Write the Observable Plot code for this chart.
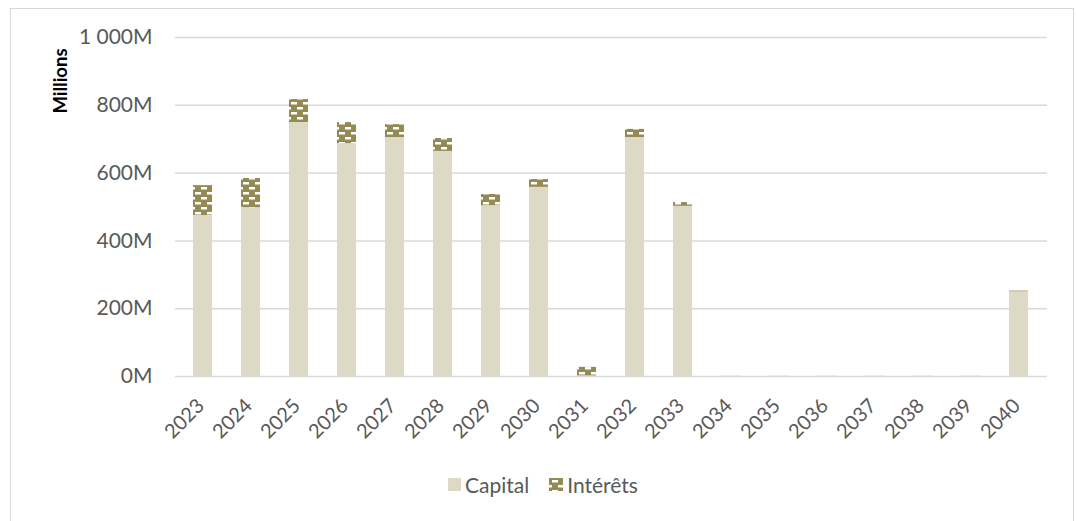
<!DOCTYPE html>
<html>
<head>
<meta charset="utf-8">
<script src="https://cdn.jsdelivr.net/npm/d3@7"></script>
<script src="https://cdn.jsdelivr.net/npm/@observablehq/plot@0.6"></script>
<style>
  html, body { margin: 0; padding: 0; background: #fff; }
  body { width: 1077px; height: 521px; position: relative; overflow: hidden; font-family: Lato, "Open Sans", sans-serif; }
  #frame { position: absolute; left: 10px; top: 8px; width: 1064px; height: 530px; border: 1px solid #d9d9d9; box-sizing: border-box; }
  #chart { position: absolute; left: 0; top: 0; }
  #ylabel { position: absolute; left: 60px; top: 81px; transform: translate(-50%, -50%) rotate(-90deg); font-weight: bold; font-size: 18.5px; color: #000; white-space: nowrap; }
  #legend { position: absolute; top: 472px; left: 448px; display: flex; gap: 20px; font-size: 21px; color: #595959; }
  .item { display: flex; align-items: center; gap: 4px; }
  .sw { width: 13px; height: 13px; display: inline-block; }
</style>
</head>
<body>
<div id="frame"></div>
<div id="chart"></div>
<div id="ylabel">Millions</div>
<div id="legend"></div>
<script>
const years = ["2023","2024","2025","2026","2027","2028","2029","2030","2031","2032","2033","2034","2035","2036","2037","2038","2039","2040"];
const capital = [475, 498, 749, 687, 705, 664, 504, 558, 2, 705, 502, 1, 1, 1, 1, 1, 1, 250];
const interets = [88, 86, 68, 62, 38, 38, 33, 23, 25, 24, 11, 0, 0, 0, 0, 0, 0, 2];
const series = ["Capital", "Intérêts"];
const yTicks = [0, 200, 400, 600, 800, 1000];

const colCapital = "#DDD9C4";
const colInterets = "#948A54";

const data = [];
years.forEach((y, i) => {
  data.push({year: y, series: series[0], value: capital[i]});
  data.push({year: y, series: series[1], value: interets[i]});
});

const fmt = d => d3.format(",")(d).replace(/,/g, " ") + "M";

const chart = Plot.plot({
  width: 1077,
  height: 460,
  marginLeft: 175,
  marginRight: 30,
  marginTop: 37,
  marginBottom: 84,
  style: { fontFamily: "Lato, 'Open Sans', sans-serif", color: "#595959", background: "transparent" },
  x: { domain: years, paddingInner: 0.6, paddingOuter: 0.3, label: null },
  y: { domain: [0, 1000], label: null },
  color: { domain: series, range: [colCapital, "url(#brick)"] },
  marks: [
    Plot.gridY(yTicks, { stroke: "#d9d9d9", strokeOpacity: 1, strokeWidth: 1.5 }),
    Plot.barY(data, { x: "year", y: "value", fill: "series", order: series }),
    Plot.axisY({ ticks: yTicks, tickFormat: fmt, tickSize: 0, tickPadding: 23, fontSize: 21, fill: "#595959" }),
    Plot.axisX({ tickSize: 0, tickRotate: -45, tickPadding: 6, fontSize: 20, fill: "#595959", dx: -2, dy: 20 })
  ]
});

// pattern definition
const svgNS = "http://www.w3.org/2000/svg";
function addPattern(svg, id) {
  const defs = document.createElementNS(svgNS, "defs");
  defs.innerHTML = `<pattern id="${id}" patternUnits="userSpaceOnUse" width="12" height="10">
      <rect width="12" height="10" fill="${colInterets}"/>
      <rect x="3" y="2" width="6" height="2.5" fill="#ffffff"/>
      <rect x="-3" y="7" width="6" height="2.5" fill="#ffffff"/>
      <rect x="9" y="7" width="6" height="2.5" fill="#ffffff"/>
    </pattern>`;
  svg.insertBefore(defs, svg.firstChild);
}
addPattern(chart, "brick");
document.getElementById("chart").appendChild(chart);

// legend
const legend = document.getElementById("legend");
series.forEach((s, i) => {
  const it = document.createElement("div");
  it.className = "item";
  if (i === 0) {
    const sw = document.createElement("span");
    sw.className = "sw";
    sw.style.background = colCapital;
    it.appendChild(sw);
  } else {
    const sw = document.createElementNS(svgNS, "svg");
    sw.setAttribute("width", "14");
    sw.setAttribute("height", "13");
    addPattern(sw, "brickLegend");
    const r = document.createElementNS(svgNS, "rect");
    r.setAttribute("width", "14"); r.setAttribute("height", "13");
    r.setAttribute("fill", "url(#brickLegend)");
    sw.appendChild(r);
    it.appendChild(sw);
  }
  const t = document.createElement("span");
  t.textContent = s;
  it.appendChild(t);
  legend.appendChild(it);
});
</script>
</body>
</html>
